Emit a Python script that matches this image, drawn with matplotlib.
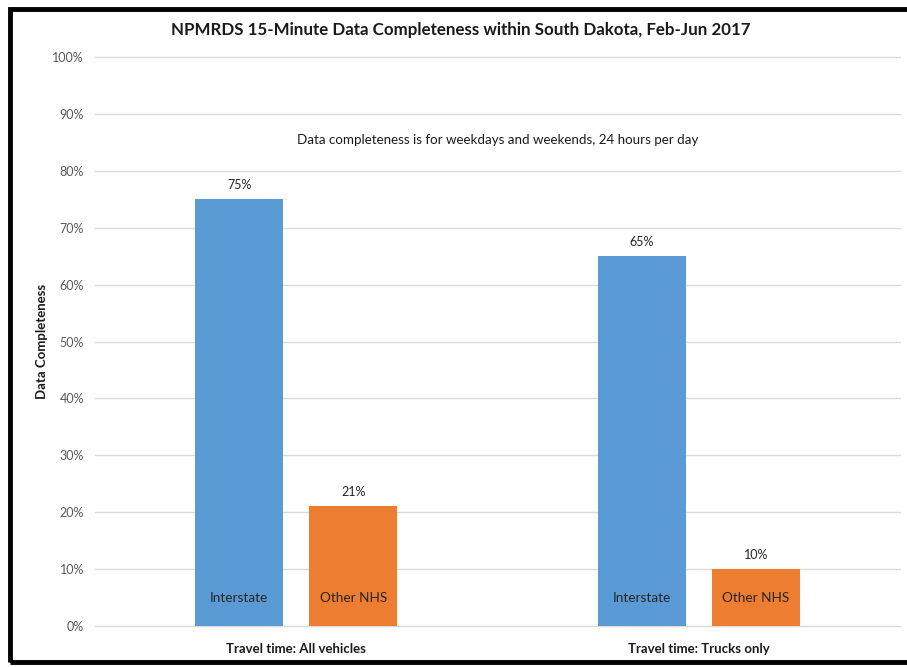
import matplotlib.pyplot as plt
import numpy as np
from matplotlib.patches import Rectangle

# Datos del grafico
categories = ['Travel time: All vehicles', 'Travel time: Trucks only']
interstate = [75, 65]
other_nhs = [21, 10]
series_names = ['Interstate', 'Other NHS']
y_ticks = [0, 10, 20, 30, 40, 50, 60, 70, 80, 90, 100]

plt.rcParams['font.family'] = ['Lato', 'DejaVu Sans']

fig = plt.figure(figsize=(9.07, 6.67), dpi=100)
ax = fig.add_axes([0.1047, 0.0615, 0.8876, 0.853])

x = np.arange(len(categories))
width = 0.219
offset = 0.142

bars1 = ax.bar(x - offset, interstate, width, color='#5B9BD5', zorder=3)
bars2 = ax.bar(x + offset, other_nhs, width, color='#ED7D31', zorder=3)

# Etiquetas de valor y nombres dentro de las barras
for bars, name in [(bars1, series_names[0]), (bars2, series_names[1])]:
    for b in bars:
        cx = b.get_x() + b.get_width() / 2
        ax.text(cx, b.get_height() + 1.5, f"{b.get_height():.0f}%", ha='center', va='bottom',
                fontsize=9, color='#262626')
        ax.text(cx, 5, name, ha='center', va='center', fontsize=9.8, color='#262626', zorder=4)

ax.set_xlim(-0.5, 1.5)
ax.set_ylim(0, 100)
ax.set_yticks(y_ticks)
ax.set_yticklabels([f"{v}%" for v in y_ticks], fontsize=9, color='#595959')
ax.set_xticks(x)
ax.set_xticklabels(categories, fontsize=9.5, fontweight='bold', color='#1a1a1a')
ax.tick_params(axis='both', length=0, pad=8)
ax.tick_params(axis='x', pad=12)
ax.grid(axis='y', color='#D9D9D9', linewidth=1, zorder=0)
for gl in ax.get_ygridlines():
    gl.set_clip_on(False)
for s in ax.spines.values():
    s.set_visible(False)

ax.set_ylabel('Data Completeness', fontsize=9.5, fontweight='bold', color='#1a1a1a', labelpad=3)

ax.text(0.5, 85.5, 'Data completeness is for weekdays and weekends, 24 hours per day',
        transform=ax.get_yaxis_transform(), ha='center', va='center', fontsize=9.6, color='#1a1a1a')

fig.text(0.508, 0.955, 'NPMRDS 15-Minute Data Completeness within South Dakota, Feb-Jun 2017',
         ha='center', va='center', fontsize=12.2, fontweight='bold', color='#1a1a1a')

# Marco negro alrededor
fig.patches.append(Rectangle((10 / 907, 5 / 667), 1.0, 653 / 667, transform=fig.transFigure,
                             fill=False, edgecolor='black', linewidth=3.5))

plt.savefig('out.png', dpi=100)
plt.close()
